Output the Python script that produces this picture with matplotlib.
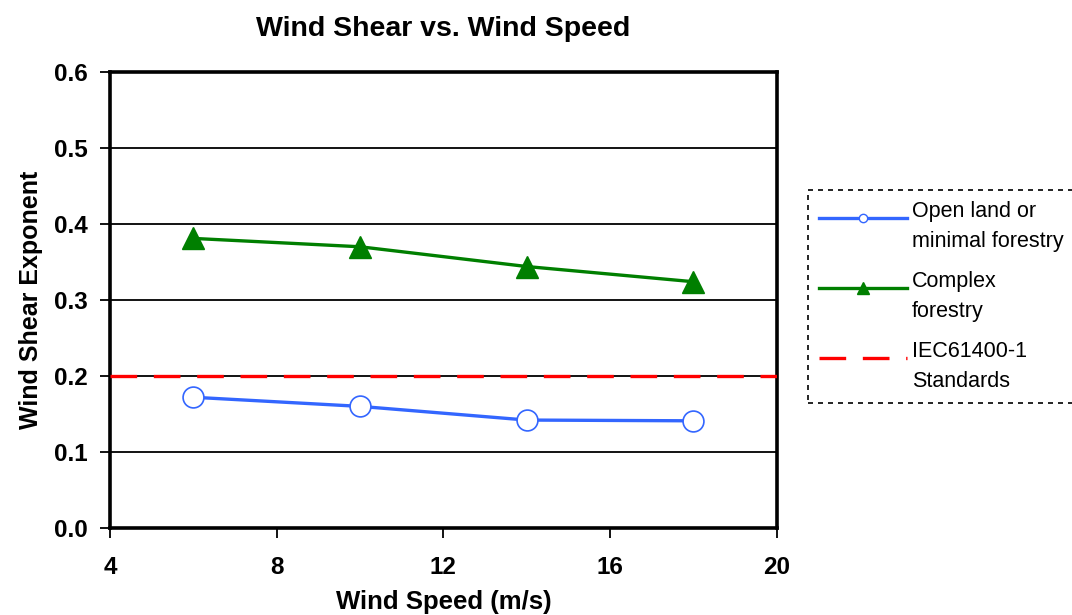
import matplotlib.pyplot as plt
from matplotlib.lines import Line2D
from matplotlib.legend_handler import HandlerLine2D

plt.rcParams['font.family'] = ['Liberation Sans', 'DejaVu Sans']

# Wind shear exponent measured at each wind speed
wind_speed = [6, 10, 14, 18]
open_land = [0.172, 0.160, 0.142, 0.141]
complex_forestry = [0.381, 0.370, 0.344, 0.324]
iec_standard = 0.2

x_ticks = [4, 8, 12, 16, 20]
y_ticks = [0.0, 0.1, 0.2, 0.3, 0.4, 0.5, 0.6]


class TopLineHandler(HandlerLine2D):
    # put the legend sample level with the first text line
    def create_artists(self, legend, orig_handle, xdescent, ydescent,
                       width, height, fontsize, trans):
        arts = super().create_artists(legend, orig_handle, xdescent, ydescent,
                                      width, height, fontsize, trans)
        for a in arts:
            a.set_ydata([y + height * 0.6 for y in a.get_ydata()])
        return arts


fig = plt.figure(figsize=(10.72, 6.15), dpi=100)
ax = fig.add_axes([0.1026, 0.1415, 0.622, 0.7415])

ax.set_xlim(4, 20)
ax.set_ylim(0, 0.6)
ax.set_xticks(x_ticks)
ax.set_yticks(y_ticks)
ax.set_yticklabels([f'{v:.1f}' for v in y_ticks])
ax.yaxis.grid(True, color='black', linewidth=1.3)
ax.set_axisbelow(True)

for side in ax.spines.values():
    side.set_linewidth(2.6)
ax.tick_params(direction='out', length=7, width=1.3, labelsize=17.5)
ax.tick_params(axis='x', pad=13)
ax.tick_params(axis='y', pad=9)
for lab in ax.get_xticklabels() + ax.get_yticklabels():
    lab.set_fontweight('bold')

ax.axhline(iec_standard, color='#ff0000', linewidth=2.4, dashes=(8, 5), zorder=3)
ax.plot(wind_speed, open_land, color='#3366ff', linewidth=2.4,
        marker='o', markersize=15, markerfacecolor='white',
        markeredgecolor='#3366ff', markeredgewidth=1.2, zorder=4)
ax.plot(wind_speed, complex_forestry, color='#007f00', linewidth=2.4,
        marker='^', markersize=16, markerfacecolor='#007f00',
        markeredgecolor='#007f00', zorder=4)

ax.set_title('Wind Shear vs. Wind Speed', fontsize=20.5, fontweight='bold', pad=26)
ax.set_xlabel('Wind Speed (m/s)', fontsize=18.5, fontweight='bold', labelpad=8)
ax.set_ylabel('Wind Shear Exponent', fontsize=18, fontweight='bold', labelpad=8)

handles = [
    Line2D([], [], color='#3366ff', linewidth=2.4, marker='o', markersize=6,
           markerfacecolor='white', markeredgecolor='#3366ff'),
    Line2D([], [], color='#007f00', linewidth=2.4, marker='^', markersize=8,
           markerfacecolor='#007f00', markeredgecolor='#007f00'),
    Line2D([], [], color='#ff0000', linewidth=2.4, dashes=(8, 5)),
]
labels = ['Open land or\nminimal forestry', 'Complex\nforestry', 'IEC61400-1\nStandards']
leg = fig.legend(handles, labels, loc='upper left', bbox_to_anchor=(0.754, 0.691),
                 fontsize=15.5, handlelength=4.1, handletextpad=0.2,
                 labelspacing=0.9, borderpad=0.5, borderaxespad=0,
                 fancybox=False, edgecolor='black', framealpha=1,
                 handler_map={Line2D: TopLineHandler()})
for t in leg.get_texts():
    t.set_linespacing(1.55)
leg.get_frame().set_linestyle((0, (3, 3)))
leg.get_frame().set_linewidth(1.2)

fig.savefig('out.png', dpi=100)
